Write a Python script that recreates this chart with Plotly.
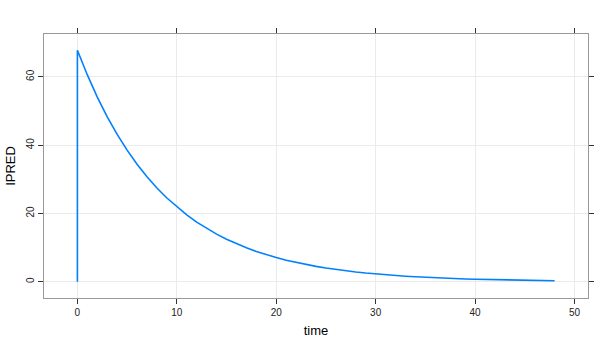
import plotly.graph_objects as go

time = [0, 0, 1, 2, 3, 4, 5, 6, 7, 8, 9, 10, 11, 12, 13, 14, 15, 16, 17, 18, 19, 20,
        21, 22, 23, 24, 25, 26, 27, 28, 29, 30, 31, 32, 33, 34, 35, 36, 37, 38, 39, 40,
        41, 42, 43, 44, 45, 46, 47, 48]
ipred = [0.0, 67.8, 60.56, 54.09, 48.31, 43.15, 38.54, 34.43, 30.75, 27.47, 24.53, 21.91,
         19.57, 17.48, 15.61, 13.95, 12.46, 11.13, 9.94, 8.88, 7.93, 7.08,
         6.33, 5.65, 5.05, 4.51, 4.03, 3.60, 3.21, 2.87, 2.56, 2.29,
         2.05, 1.83, 1.63, 1.46, 1.30, 1.16, 1.04, 0.93, 0.83, 0.74,
         0.66, 0.59, 0.53, 0.47, 0.42, 0.38, 0.34, 0.30]
x_ticks = [0, 10, 20, 30, 40, 50]
y_ticks = [0, 20, 40, 60]

fig = go.Figure(go.Scatter(x=time, y=ipred, mode="lines",
                           line=dict(color="#0080ff", width=1.6), showlegend=False))

axis_common = dict(showline=True, linecolor="#999999", linewidth=1.3, mirror="ticks",
                   ticks="outside", ticklen=5, tickcolor="#333333", tickwidth=1,
                   showgrid=True, gridcolor="#ebebeb", gridwidth=1, zeroline=False,
                   automargin=False,
                   tickfont=dict(size=10, color="#222222", family="Liberation Sans"))

fig.update_layout(
    width=600, height=350,
    margin=dict(l=44, r=12, t=34, b=52, pad=0),
    paper_bgcolor="white", plot_bgcolor="white",
    font=dict(family="Liberation Sans", color="#000000"),
    xaxis=dict(range=[-3.36, 51.36], tickvals=x_ticks,
               title=dict(text="time", font=dict(size=13), standoff=8), **axis_common),
    yaxis=dict(range=[-4.75, 72.55], tickvals=y_ticks, tickangle=-90,
               title=dict(text="IPRED", font=dict(size=13), standoff=6), **axis_common),
)

fig.write_html("out.html")
